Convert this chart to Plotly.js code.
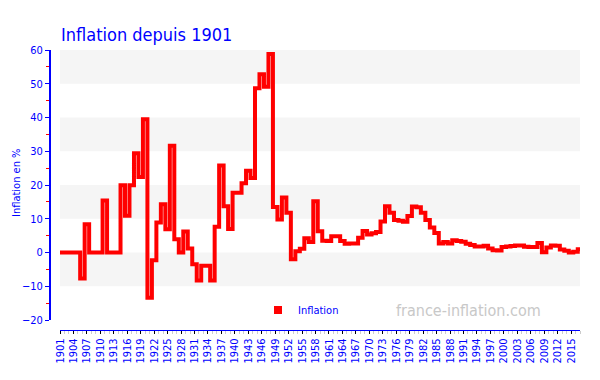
<!DOCTYPE html>
<html>
<head>
<meta charset="utf-8">
<script src="https://cdn.plot.ly/plotly-3.0.1.min.js"></script>
<style>html,body{margin:0;padding:0;background:#fff;}#chart{width:600px;height:380px;}</style>
</head>
<body>
<div id="chart"></div>
<script>
var years = [1901,1902,1903,1904,1905,1906,1907,1908,1909,1910,
1911,1912,1913,1914,1915,1916,1917,1918,1919,1920,
1921,1922,1923,1924,1925,1926,1927,1928,1929,1930,
1931,1932,1933,1934,1935,1936,1937,1938,1939,1940,
1941,1942,1943,1944,1945,1946,1947,1948,1949,1950,
1951,1952,1953,1954,1955,1956,1957,1958,1959,1960,
1961,1962,1963,1964,1965,1966,1967,1968,1969,1970,
1971,1972,1973,1974,1975,1976,1977,1978,1979,1980,
1981,1982,1983,1984,1985,1986,1987,1988,1989,1990,
1991,1992,1993,1994,1995,1996,1997,1998,1999,2000,
2001,2002,2003,2004,2005,2006,2007,2008,2009,2010,
2011,2012,2013,2014,2015,2016,2017];
var inflation = [0,0,0,0,0,-7.7,8.4,0,0,0,
15.4,0,0,0,19.9,10.9,19.9,29.4,22.4,39.5,
-13.4,-2.3,8.9,14.3,6.9,31.6,3.9,0,6.2,1.2,
-3.5,-8.3,-3.9,-3.9,-8.3,7.6,25.8,13.7,7.0,17.7,
17.7,20.5,24.2,22.1,48.7,52.8,49.1,58.8,13.5,9.8,
16.3,11.8,-2.0,0.4,1.1,4.2,3.1,15.2,6.3,3.5,
3.4,4.8,4.8,3.4,2.6,2.7,2.7,4.4,6.4,5.3,
5.7,6.1,9.2,13.7,11.8,9.6,9.4,9.1,10.8,13.6,
13.4,11.8,9.6,7.4,5.8,2.7,3.1,2.7,3.6,3.4,
3.2,2.6,2.2,1.8,1.8,2.0,1.2,0.7,0.6,1.6,
1.8,1.9,2.1,2.1,1.7,1.6,1.6,2.8,0.1,1.5,
2.1,2.0,0.9,0.5,0.0,0.2,1.0];
var tickYears = [1901,1904,1907,1910,1913,1916,1919,1922,1925,1928,1931,1934,1937,1940,1943,1946,1949,1952,1955,1958,1961,1964,1967,1970,1973,1976,1979,1982,1985,1988,1991,1994,1997,2000,2003,2006,2009,2012,2015];
var bandRanges = [[50,60],[30,40],[10,20],[-10,0]];
var seriesName = 'Inflation';

var FONT = "'Liberation Sans Narrow', 'DejaVu Sans Condensed', 'Arial Narrow', sans-serif";
var BLUE = '#0000ff';

var shapes = bandRanges.map(function(b){
  return {type:'rect', xref:'x domain', yref:'y', x0:0, x1:1, y0:b[0], y1:b[1],
          fillcolor:'#f5f5f5', line:{width:0}, layer:'below'};
});

var traces = [
  {x: years, y: inflation, type:'scatter', mode:'lines', line:{shape:'hvh', color:'#ff0000', width:4},
   showlegend:false, hoverinfo:'x+y'},
  {x:[null], y:[null], type:'scatter', mode:'markers', name: seriesName,
   marker:{symbol:'square', size:8, color:'#ff0000'}}
];

var layout = {
  width:600, height:380,
  margin:{l:50, r:20, t:50, b:50},
  paper_bgcolor:'#ffffff', plot_bgcolor:'#ffffff',
  font:{family:FONT, color:BLUE, size:11},
  title:{text:'Inflation depuis 1901', x:0, xref:'paper', xanchor:'left', y:0.925, yanchor:'top',
         pad:{l:11}, font:{family:FONT, size:18, color:BLUE}},
  xaxis:{domain:[10/530,1], anchor:'free', position:0, range:[1901,2017],
         showgrid:false, zeroline:false, showline:true, linecolor:BLUE, linewidth:1,
         tickmode:'array', tickvals:tickYears, ticktext:tickYears.map(String),
         ticks:'outside', ticklen:3, tickcolor:'#000', tickangle:-90,
         tickfont:{family:FONT, size:11, color:BLUE},
         minor:{dtick:1, tick0:1901, ticks:'outside', ticklen:3, tickcolor:'#cccccc', showgrid:false}},
  yaxis:{domain:[10/280,1], anchor:'free', position:0, range:[-20,60],
         showgrid:false, zeroline:false, showline:true, linecolor:BLUE, linewidth:2,
         tickmode:'linear', tick0:-20, dtick:10, ticks:'outside', ticklen:4, tickcolor:BLUE,
         tickfont:{family:FONT, size:11, color:BLUE},
         minor:{dtick:5, tick0:-15, ticks:'outside', ticklen:3, tickcolor:'#ff0000', showgrid:false}},
  shapes: shapes,
  showlegend:true,
  legend:{orientation:'h', x:(258-50)/530, y:(330-310)/280, xanchor:'left', yanchor:'middle',
          bgcolor:'rgba(0,0,0,0)', font:{family:FONT, size:11, color:BLUE}, itemwidth:30},
  annotations:[
    {text:'france-inflation.com', xref:'paper', yref:'paper', x:(468-50)/530, y:(330-310)/280,
     xanchor:'center', yanchor:'middle', showarrow:false,
     font:{family:FONT, size:16, color:'#c8c8c8'}},
    {text:'Inflation en %', xref:'paper', yref:'paper', x:(16-50)/530, y:(330-183)/280,
     xanchor:'center', yanchor:'middle', textangle:-90, showarrow:false,
     font:{family:FONT, size:11, color:BLUE}}
  ]
};

Plotly.newPlot('chart', traces, layout, {displayModeBar:false, staticPlot:true});
</script>
</body>
</html>
